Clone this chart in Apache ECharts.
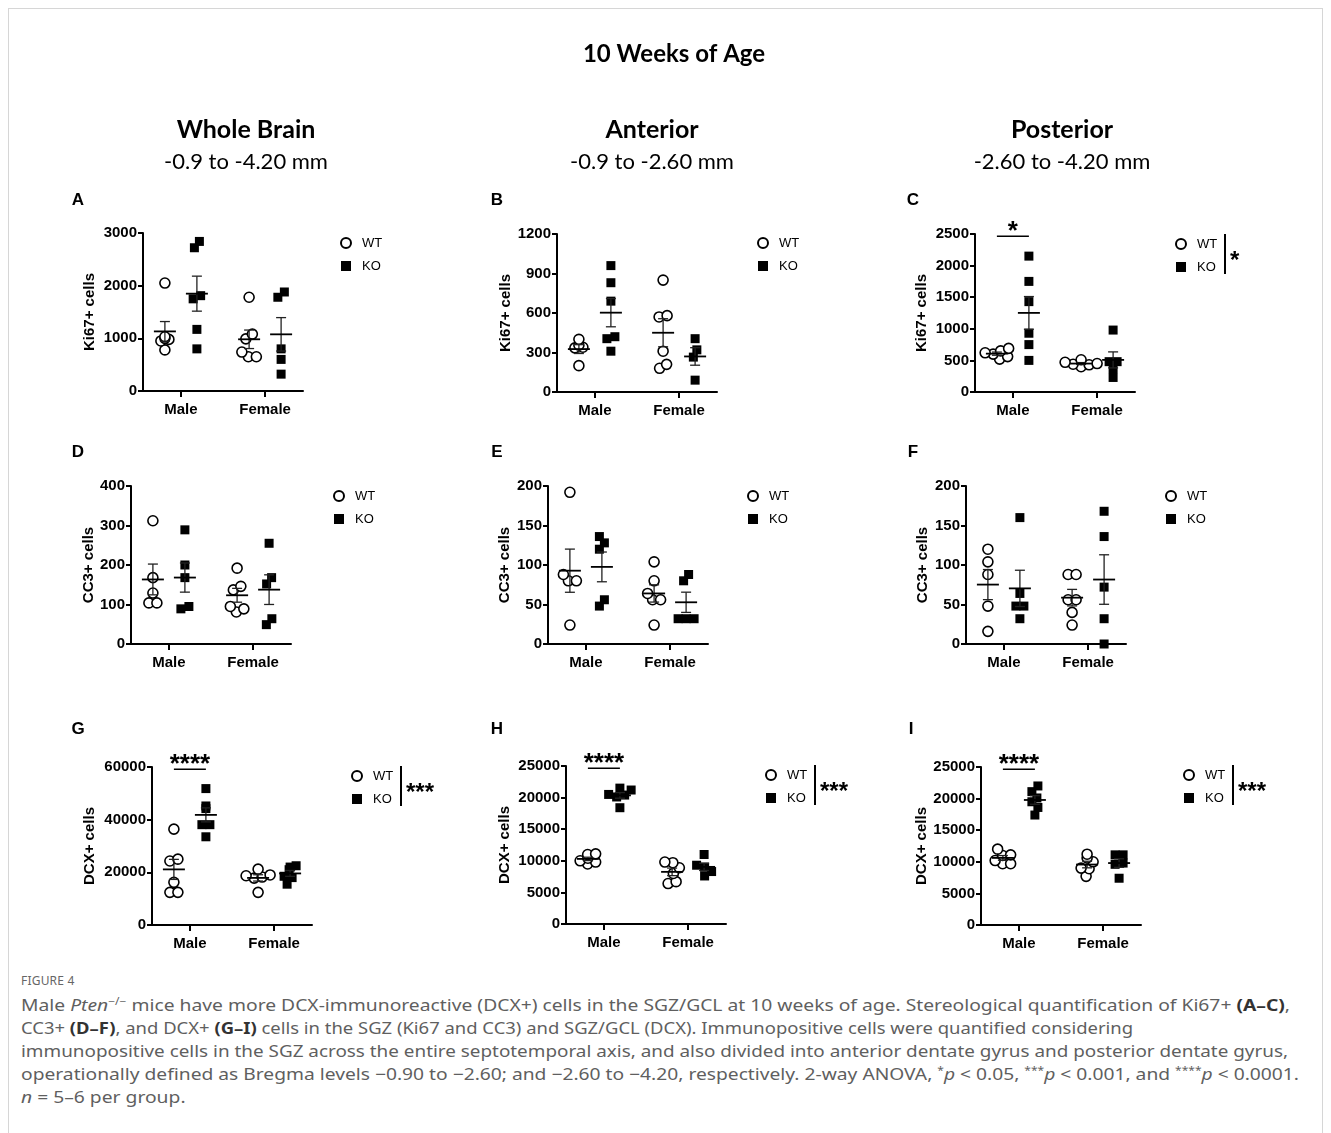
<!DOCTYPE html>
<html><head><meta charset="utf-8">
<script src="https://cdn.jsdelivr.net/npm/echarts@6/dist/echarts.min.js"></script>
<style>
html,body{margin:0;padding:0;background:#fff;width:1331px;height:1133px;overflow:hidden;}
#frame{position:absolute;left:8px;top:8px;width:1315px;height:1200px;border:1px solid #d6d6d6;box-sizing:border-box;}
#chart{position:absolute;left:0;top:0;width:1331px;height:965px;}
#fig{position:absolute;left:21px;top:972px;font-family:'Noto Sans';font-size:12px;color:#666;letter-spacing:0.2px;}
#lines{position:absolute;left:21px;top:994px;font-family:'Noto Sans';font-size:16px;color:#5f5f5f;}
.cl{white-space:nowrap;height:23px;line-height:23px;width:max-content;transform-origin:0 0;}
.cl b{color:#333;}
.cl sup{font-size:10px;line-height:0;}
</style></head>
<body>
<div id="frame"></div>
<div id="chart"></div>
<div id="fig">FIGURE 4</div>
<div id="lines">
<div class="cl">Male <i>Pten</i><sup>−/−</sup> mice have more DCX-immunoreactive (DCX+) cells in the SGZ/GCL at 10 weeks of age. Stereological quantification of Ki67+ <b>(A–C)</b>,</div>
<div class="cl">CC3+ <b>(D–F)</b>, and DCX+ <b>(G–I)</b> cells in the SGZ (Ki67 and CC3) and SGZ/GCL (DCX). Immunopositive cells were quantified considering</div>
<div class="cl">immunopositive cells in the SGZ across the entire septotemporal axis, and also divided into anterior dentate gyrus and posterior dentate gyrus,</div>
<div class="cl">operationally defined as Bregma levels −0.90 to −2.60; and −2.60 to −4.20, respectively. 2-way ANOVA, <sup>*</sup><i>p</i> &lt; 0.05, <sup>***</sup><i>p</i> &lt; 0.001, and <sup>****</sup><i>p</i> &lt; 0.0001.</div>
<div class="cl"><i>n</i> = 5–6 per group.</div>
</div>
<script>
// ---------------- data ----------------
const categories = ['Male', 'Female'];
const genotypes = ['WT', 'KO'];
const figTitle = '10 Weeks of Age';
const colTitles = ['Whole Brain', 'Anterior', 'Posterior'];
const colRanges = ['-0.9 to -4.20 mm', '-0.9 to -2.60 mm', '-2.60 to -4.20 mm'];
const panelLetters = ['A','B','C','D','E','F','G','H','I'];
const yNames = ['Ki67+ cells','Ki67+ cells','Ki67+ cells','CC3+ cells','CC3+ cells','CC3+ cells','DCX+ cells','DCX+ cells','DCX+ cells'];
const yMax = [3000, 1200, 2500, 400, 200, 200, 60000, 25000, 25000];
const yStep = [1000, 300, 500, 100, 50, 50, 20000, 5000, 5000];

// [Male values, Female values]
const ki67Whole_WT = [[2050, 1030, 1000, 980, 950, 780], [1780, 1080, 990, 740, 650, 650]];
const ki67Whole_KO = [[2840, 2720, 1810, 1750, 1170, 800], [1880, 1780, 800, 600, 320]];
const ki67Ant_WT = [[400, 355, 340, 335, 200], [850, 580, 570, 310, 210, 180]];
const ki67Ant_KO = [[960, 830, 690, 420, 405, 310], [405, 320, 265, 90]];
const ki67Post_WT = [[690, 650, 620, 600, 560, 520], [510, 470, 450, 440, 430, 400]];
const ki67Post_KO = [[2150, 1750, 1430, 930, 750, 500], [980, 480, 480, 370, 230]];
const cc3Whole_WT = [[312, 168, 129, 104, 104], [192, 146, 137, 95, 89, 81]];
const cc3Whole_KO = [[289, 200, 168, 95, 89], [255, 168, 152, 64, 49]];
const cc3Ant_WT = [[192, 88, 80, 80, 24], [104, 80, 64, 56, 56, 24]];
const cc3Ant_KO = [[136, 128, 120, 56, 48], [88, 80, 32, 32, 32]];
const cc3Post_WT = [[120, 104, 88, 48, 16], [88, 88, 56, 56, 40, 24]];
const cc3Post_KO = [[160, 64, 48, 48, 32], [168, 136, 72, 32, 0]];
const dcxWhole_WT = [[36400, 25000, 24300, 16200, 12400, 12400], [21200, 19000, 18700, 18200, 17800, 12400]];
const dcxWhole_KO = [[51800, 45200, 44200, 38100, 38100, 33500], [22500, 22000, 21000, 18500, 18000, 15500]];
const dcxAnt_WT = [[11100, 11000, 10400, 10000, 9800, 9500], [9800, 9700, 8900, 8000, 6700, 6400]];
const dcxAnt_KO = [[21500, 21200, 20500, 20400, 20100, 18400], [11000, 9300, 9000, 8300, 7600]];
const dcxPost_WT = [[12000, 11100, 11000, 10200, 9700, 9700], [11200, 10600, 10000, 9000, 8900, 7700]];
const dcxPost_KO = [[22000, 21100, 20100, 19500, 18600, 17400], [11100, 11100, 9800, 9600, 7400]];

const posthocSig = [null, null, '*', null, null, null, '****', '****', '****'];
const anovaSig = [null, null, '*', null, null, null, '***', '***', '***'];

const panelWT = [ki67Whole_WT, ki67Ant_WT, ki67Post_WT, cc3Whole_WT, cc3Ant_WT, cc3Post_WT, dcxWhole_WT, dcxAnt_WT, dcxPost_WT];
const panelKO = [ki67Whole_KO, ki67Ant_KO, ki67Post_KO, cc3Whole_KO, cc3Ant_KO, cc3Post_KO, dcxWhole_KO, dcxAnt_KO, dcxPost_KO];

// ---------------- layout ----------------
const GW = 160, GH = 158, XMIN = 0.55, XMAX = 2.45, OFF = 0.19;
const gridLeft = [143, 557, 975, 131, 548, 966, 152, 566, 981];
const gridTop = [233, 234, 234, 486, 486, 486, 767, 766, 767];
const nameGap = [46, 44, 46, 34, 36, 36, 55, 54, 52];
const legendPos = [[340,236],[757,236],[1175,237],[333,489],[747,489],[1165,489],[351,769],[765,768],[1183,768]];
const letterPos = [[78,200],[497,200],[913,200],[78,452],[497,452],[913,452],[78,729],[497,729],[911,729]];
const colX = [246, 652, 1062];
const captionWidths = [1269, 1112, 1267, 1278];
const AX = '"Liberation Sans", Arial, sans-serif';

function swarm(vals, center, ymax) {
  const pxY = GH / ymax, pxX = GW / (XMAX - XMIN), D = 8;
  const sorted = vals.slice().sort((a, b) => a - b);
  const placed = [];
  for (const v of sorted) {
    const y = v * pxY;
    let best = 0;
    outer: for (let k = 0; k < 80; k++) {
      const cands = k === 0 ? [0] : [k * 0.5, -k * 0.5];
      for (const dx of cands) {
        if (placed.every(q => (q[0] - dx) ** 2 + (q[1] - y) ** 2 >= D * D)) { best = dx; break outer; }
      }
    }
    placed.push([best, y]);
  }
  // center each touching cluster horizontally
  const n = placed.length, comp = new Array(n).fill(-1);
  let c = 0;
  for (let i = 0; i < n; i++) {
    if (comp[i] >= 0) continue;
    const st = [i]; comp[i] = c;
    while (st.length) {
      const a = st.pop();
      for (let j = 0; j < n; j++) if (comp[j] < 0 && Math.hypot(placed[a][0] - placed[j][0], placed[a][1] - placed[j][1]) < D * 1.05) { comp[j] = c; st.push(j); }
    }
    c++;
  }
  for (let k = 0; k < c; k++) {
    const idx = placed.map((q, i) => i).filter(i => comp[i] === k);
    const xs = idx.map(i => placed[i][0]);
    const mid = (Math.min(...xs) + Math.max(...xs)) / 2;
    idx.forEach(i => placed[i][0] -= mid);
  }
  return placed.map((q, i) => [center + q[0] / pxX, sorted[i]]);
}
function meanSem(vals) {
  const n = vals.length, m = vals.reduce((a, b) => a + b, 0) / n;
  const sd = Math.sqrt(vals.reduce((a, b) => a + (b - m) * (b - m), 0) / (n - 1));
  return [m, sd / Math.sqrt(n)];
}
function renderErr(params, api) {
  const x = api.value(0), m = api.value(1), s = api.value(2);
  const c = api.coord([x, m]), t = api.coord([x, m + s]), b = api.coord([x, m - s]);
  const st = { stroke: '#222', lineWidth: 1.3 };
  return { type: 'group', children: [
    { type: 'line', shape: { x1: t[0], y1: t[1], x2: b[0], y2: b[1] }, style: st },
    { type: 'line', shape: { x1: t[0] - 5, y1: t[1], x2: t[0] + 5, y2: t[1] }, style: st },
    { type: 'line', shape: { x1: b[0] - 5, y1: b[1], x2: b[0] + 5, y2: b[1] }, style: st },
    { type: 'line', shape: { x1: c[0] - 11, y1: c[1], x2: c[0] + 11, y2: c[1] }, style: { stroke: '#000', lineWidth: 1.8 } }
  ]};
}

const grids = [], xAxes = [], yAxes = [], series = [], legends = [], graphics = [];
for (let p = 0; p < 9; p++) {
  grids.push({ left: gridLeft[p], top: gridTop[p], width: GW, height: GH });
  xAxes.push({
    type: 'value', gridIndex: p, min: XMIN, max: XMAX,
    axisLine: { show: true, onZero: false, lineStyle: { color: '#000', width: 2 } },
    splitLine: { show: false },
    axisTick: { show: true, customValues: [1, 2], length: 6, lineStyle: { color: '#000', width: 2 } },
    axisLabel: { customValues: [1, 2], formatter: v => categories[Math.round(v) - 1], color: '#000', fontWeight: 'bold', fontSize: 15, fontFamily: AX, margin: 11 }
  });
  yAxes.push({
    type: 'value', gridIndex: p, min: 0, max: yMax[p], interval: yStep[p],
    name: yNames[p], nameLocation: 'middle', nameGap: nameGap[p],
    nameTextStyle: { color: '#000', fontWeight: 'bold', fontSize: 15, fontFamily: AX },
    axisLine: { show: true, lineStyle: { color: '#000', width: 2 } },
    splitLine: { show: false },
    axisTick: { show: true, length: 5, lineStyle: { color: '#000', width: 2 } },
    axisLabel: { formatter: v => String(v), color: '#000', fontWeight: 'bold', fontSize: 15, fontFamily: AX, margin: 6 }
  });
  const wt = [], ko = [], err = [];
  categories.forEach((c, g) => {
    const cx = g + 1;
    wt.push(...swarm(panelWT[p][g], cx - OFF, yMax[p]));
    ko.push(...swarm(panelKO[p][g], cx + OFF, yMax[p]));
    err.push([cx - OFF, ...meanSem(panelWT[p][g])]);
    err.push([cx + OFF, ...meanSem(panelKO[p][g])]);
  });
  series.push({ name: genotypes[0], type: 'scatter', xAxisIndex: p, yAxisIndex: p, data: wt, symbol: 'circle', symbolSize: 10,
    itemStyle: { color: '#fff', borderColor: '#000', borderWidth: 1.6, opacity: 1 }, z: 2 });
  series.push({ name: genotypes[1], type: 'scatter', xAxisIndex: p, yAxisIndex: p, data: ko, symbol: 'rect', symbolSize: 9,
    itemStyle: { color: '#000', opacity: 1 }, z: 2 });
  series.push({ type: 'custom', xAxisIndex: p, yAxisIndex: p, data: err, renderItem: renderErr, z: 5, silent: true,
    encode: { x: 0, y: 1 } });
  legends.push({ orient: 'vertical', left: legendPos[p][0], top: legendPos[p][1], data: genotypes, selectedMode: false,
    padding: 0, itemWidth: 10, itemHeight: 10, itemGap: 9,
    textStyle: { fontSize: 13, fontFamily: AX, color: '#000', lineHeight: 14, padding: [0, 0, 0, 6] } });
  graphics.push({ type: 'text', x: letterPos[p][0], y: letterPos[p][1],
    style: { text: panelLetters[p], font: 'bold 17px ' + AX, fill: '#000', align: 'center', verticalAlign: 'middle' } });
}
graphics.push({ type: 'text', x: 674, y: 54, style: { text: figTitle, font: 'bold 24px Lato', fill: '#000', align: 'center', verticalAlign: 'middle' } });
colTitles.forEach((t, i) => {
  graphics.push({ type: 'text', x: colX[i], y: 130, style: { text: t, font: 'bold 25px Lato', fill: '#000', align: 'center', verticalAlign: 'middle' } });
  graphics.push({ type: 'text', x: colX[i], y: 162, style: { text: colRanges[i], font: '22px Lato', fill: '#000', align: 'center', verticalAlign: 'middle' } });
});

const chart = echarts.init(document.getElementById('chart'), null, { renderer: 'canvas' });
chart.setOption({ animation: false, grid: grids, xAxis: xAxes, yAxis: yAxes, series, legend: legends, graphic: graphics });

// significance annotations positioned through the axes
for (let p = 0; p < 9; p++) {
  if (posthocSig[p]) {
    const a = chart.convertToPixel({ gridIndex: p }, [1 - OFF, yMax[p] * 0.985]);
    const b = chart.convertToPixel({ gridIndex: p }, [1 + OFF, yMax[p] * 0.985]);
    graphics.push({ type: 'line', shape: { x1: a[0], y1: a[1], x2: b[0], y2: b[1] }, style: { stroke: '#000', lineWidth: 1.5 } });
    graphics.push({ type: 'text', x: (a[0] + b[0]) / 2, y: a[1] - 5, style: { text: posthocSig[p], font: 'bold 26px ' + AX, fill: '#000', align: 'center', verticalAlign: 'middle' } });
  }
  if (anovaSig[p]) {
    const lx = legendPos[p][0] + 50, ly = legendPos[p][1];
    graphics.push({ type: 'line', shape: { x1: lx, y1: ly - 3, x2: lx, y2: ly + 37 }, style: { stroke: '#000', lineWidth: 2 } });
    graphics.push({ type: 'text', x: lx + 5, y: ly + 24, style: { text: anovaSig[p], font: 'bold 24px ' + AX, fill: '#000', align: 'left', verticalAlign: 'middle' } });
  }
}
chart.setOption({ graphic: graphics });

// caption fit (lines 1-4 fitted to their widths; last line uses first line's scale)
const capLines = document.querySelectorAll('.cl');
let firstScale = 1;
capLines.forEach((l, i) => {
  const w = l.getBoundingClientRect().width;
  const s = i < captionWidths.length ? captionWidths[i] / w : firstScale;
  if (i === 0) firstScale = s;
  l.style.transform = 'scaleX(' + s + ')';
});
</script>
</body></html>
